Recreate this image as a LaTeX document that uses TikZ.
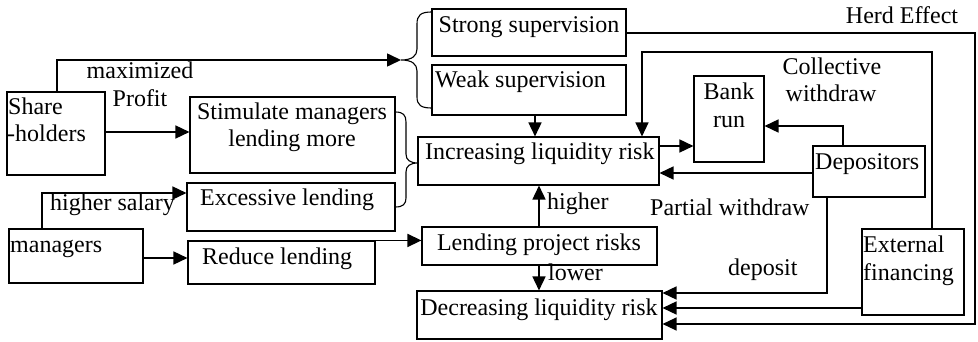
\documentclass[tikz,border=0pt]{standalone}
\usepackage{fontspec}
\setmainfont{Liberation Serif}
\usetikzlibrary{arrows.meta,fit}
\begin{document}
\begin{tikzpicture}[x=1pt,y=-1pt,
  box/.style={draw, line width=1.1pt, inner sep=0pt},
  txt/.style={inner sep=0pt, anchor=base west, font=\fontsize{24}{27}\selectfont},
  ctxt/.style={txt, anchor=base},
  tip/.style={-{Triangle[length=14pt,width=13pt]}},
  arr/.style={line width=1.6pt, tip},
  ln/.style={line width=1.3pt, tip},
  brc/.style={line width=1.1pt}]
\useasboundingbox (0,0) rectangle (978,342);
% boxes
\node[box, fit={(7,92)(105,175)}] (sh) {};
\node[box, fit={(190,97)(395,173)}] (stim) {};
\node[box, fit={(432,9)(626,56)}] (strong) {};
\node[box, fit={(432,65)(626,115)}] (weak) {};
\node[box, fit={(418,137)(659,185)}] (inc) {};
\node[box, fit={(694,76)(764,162)}] (bank) {};
\node[box, fit={(813,146)(925,197)}] (dep) {};
\node[box, fit={(862,229)(964,315)}] (ext) {};
\node[box, fit={(187,183)(395,231)}] (exc) {};
\node[box, fit={(9,229)(143,283)}] (mgr) {};
\node[box, fit={(188,241)(375,284)}] (red) {};
\node[box, fit={(422,227)(657,265)}] (lend) {};
\node[box, fit={(417,291)(662,339)}] (dec) {};
% box texts
\node[txt] (tsh1) at (8,115) {Share};
\node[txt] (tsh2) at (7,142) {-holders};
\node[ctxt] (tst1) at (292,120) {Stimulate managers};
\node[ctxt] (tst2) at (292,147) {lending more};
\node[ctxt] (tstr) at (529,33) {Strong supervision};
\node[txt] (twk) at (435,88) {Weak supervision};
\node[txt] (tinc) at (425,160) {Increasing liquidity risk};
\node[ctxt] (tbk1) at (729,100) {Bank};
\node[ctxt] (tbk2) at (729,128) {run};
\node[txt] (tdep) at (815,170) {Depositors};
\node[txt] (text1) at (863,252) {External};
\node[txt] (text2) at (863,280) {financing};
\node[txt] (texc) at (200,206) {Excessive lending};
\node[txt] (tmgr) at (10,252) {managers};
\node[txt] (tred) at (202,264) {Reduce lending};
\node[ctxt] (tlend) at (539,250) {Lending project risks};
\node[ctxt] (tdec) at (539,315) {Decreasing liquidity risk};
% labels
\node[ctxt] (lmax) at (140,79) {maximized};
\node[ctxt] (lprof) at (140,107) {Profit};
\node[txt] (lhs) at (50,211) {higher salary};
\node[txt] (lhi) at (547,210) {higher};
\node[txt] (llo) at (548,280) {lower};
\node[txt] (lpw) at (650,215) {Partial withdraw};
\node[txt] (ldep) at (728,275) {deposit};
\node[ctxt] (lcol1) at (832,75) {Collective};
\node[ctxt] (lcol2) at (831,102) {withdraw};
\node[ctxt] (lherd) at (902,24) {Herd Effect};
% braces
\coordinate (b1) at (401,60);
\coordinate (b2) at (418,163);
\draw[brc] (strong.west |- 0,12) .. controls (421,12) and (417,15) .. (417,24) -- (417,49)
  .. controls (417,56) and (412,60) .. (b1) .. controls (412,60) and (417,64) .. (417,71)
  -- (417,97) .. controls (417,105) and (421,108) .. (weak.west |- 0,108);
\draw[brc] (stim.east |- 0,112) .. controls (403,112) and (406,115) .. (406,122) -- (406,154)
  .. controls (406,160) and (410,163) .. (b2) .. controls (410,163) and (406,166) .. (406,172)
  -- (406,198) .. controls (406,204) and (403,207) .. (exc.east |- 0,207);
% connectors
\draw[arr] (sh.north -| 57,0) |- (b1);
\draw[arr] (sh.east |- 0,132) -- (stim.west |- 0,132);
\draw[arr] (weak.south -| 535,0) -- (inc.north -| 535,0);
\draw[ln] (ext.north -| 932,0) |- (642,52) -- (inc.north -| 642,0);
\draw[ln] (strong.east |- 0,33) -| (975,324) -- (dec.east |- 0,324);
\draw[arr] (inc.east |- 0,146) -- (bank.west |- 0,146);
\draw[arr] (dep.north -| 843,0) |- (bank.east |- 0,126);
\draw[arr] (dep.west |- 0,173) -- (inc.east |- 0,173);
\draw[arr] (dep.south -| 827,0) |- (dec.east |- 0,293);
\draw[arr] (ext.west |- 0,308) -- (dec.east |- 0,308);
\draw[arr] (mgr.north -| 42,0) |- (exc.west |- 0,193);
\draw[arr] (mgr.east |- 0,258) -- (red.west |- 0,258);
\draw[arr] (red.north east) -- (lend.west |- red.north east);
\draw[arr] (lend.north -| 539,0) -- (inc.south -| 539,0);
\draw[arr] (lend.south -| 539,0) -- (dec.north -| 539,0);
\end{tikzpicture}
\end{document}
